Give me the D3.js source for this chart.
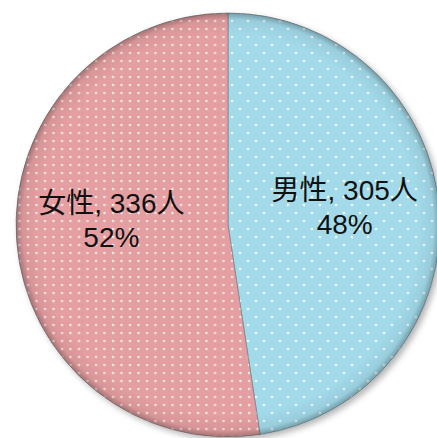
<!DOCTYPE html>
<html>
<head>
<meta charset="utf-8">
<script src="https://cdn.jsdelivr.net/npm/d3@7"></script>
<style>
  body { margin:0; background:#fff; }
  svg { display:block; }
</style>
</head>
<body>
<svg id="chart" width="437" height="438"></svg>
<script>
// data
let categories = ["男性", "女性"];
let counts = [305, 336];
let colors = ["#a2daea", "#e59ea1"];

let width = 437, height = 438;
let cx = 228, cy = 225, radius = 212;

let svg = d3.select("#chart")
   ,defs = svg.append("defs");

// polka dot patterns
let pBlue = defs.append("pattern")
                .attr("id","dotsBlue")
                .attr("patternUnits","userSpaceOnUse")
                .attr("width",16).attr("height",16);
pBlue.append("rect").attr("width",16).attr("height",16).attr("fill",colors[0]);
pBlue.append("circle").attr("cx",4).attr("cy",4).attr("r",1.3).attr("fill","#fff").attr("opacity",0.85);
pBlue.append("circle").attr("cx",12).attr("cy",12).attr("r",1.3).attr("fill","#fff").attr("opacity",0.85);

let pPink = defs.append("pattern")
                .attr("id","dotsPink")
                .attr("patternUnits","userSpaceOnUse")
                .attr("width",8.5).attr("height",8);
pPink.append("rect").attr("width",8.5).attr("height",8).attr("fill",colors[1]);
pPink.append("circle").attr("cx",4).attr("cy",4).attr("r",1.3).attr("fill","#fff5ee").attr("opacity",0.85);

// rim shading
let rim = defs.append("radialGradient").attr("id","rim")
              .attr("cx","50%").attr("cy","50%").attr("r","50%");
rim.append("stop").attr("offset","90%").attr("stop-color","#000").attr("stop-opacity",0);
rim.append("stop").attr("offset","97%").attr("stop-color","#000").attr("stop-opacity",0.06);
rim.append("stop").attr("offset","100%").attr("stop-color","#000").attr("stop-opacity",0.28);

let shadow = defs.append("filter").attr("id","shadow")
                 .attr("x","-10%").attr("y","-10%").attr("width","130%").attr("height","130%");
shadow.append("feDropShadow").attr("dx",3).attr("dy",3).attr("stdDeviation",3)
      .attr("flood-color","#000").attr("flood-opacity",0.3);

let fills = ["url(#dotsBlue)", "url(#dotsPink)"];

let pie = d3.pie().sort(null).value(d => d);
let arcs = pie(counts);
let total = d3.sum(counts);

let arc = d3.arc().innerRadius(0).outerRadius(radius);
let labelArc = d3.arc().innerRadius(117).outerRadius(117);

let g = svg.append("g").attr("transform","translate("+cx+","+cy+")");

g.append("circle").attr("r",radius).attr("fill","#ccc").attr("filter","url(#shadow)");

g.selectAll("path.slice")
 .data(arcs)
 .enter().append("path")
 .attr("class","slice")
 .attr("d",arc)
 .attr("fill",(d,i) => fills[i])
 .attr("stroke","#6d7a7c")
 .attr("stroke-width",1)
 .attr("stroke-opacity",0.6);

g.append("circle").attr("r",radius).attr("fill","url(#rim)").attr("pointer-events","none");

// labels
let labelOffset = [-16, -21];
let labels = g.selectAll("text.label")
              .data(arcs)
              .enter().append("text")
              .attr("class","label")
              .attr("transform",(d,i) => {
                let c = labelArc.centroid(d);
                return "translate("+c[0]+","+(c[1] + labelOffset[i])+")";
              })
              .attr("text-anchor","middle")
              .style("font-family","'Liberation Sans', 'Noto Sans CJK JP', sans-serif")
              .style("font-size","28px")
              .attr("fill","#111");

labels.append("tspan")
      .attr("x",0).attr("dy",0)
      .text((d,i) => categories[i] + ", " + counts[i] + "人");
labels.append("tspan")
      .attr("x",0).attr("dy",34)
      .text(d => Math.round(d.value / total * 100) + "%");
</script>
</body>
</html>
